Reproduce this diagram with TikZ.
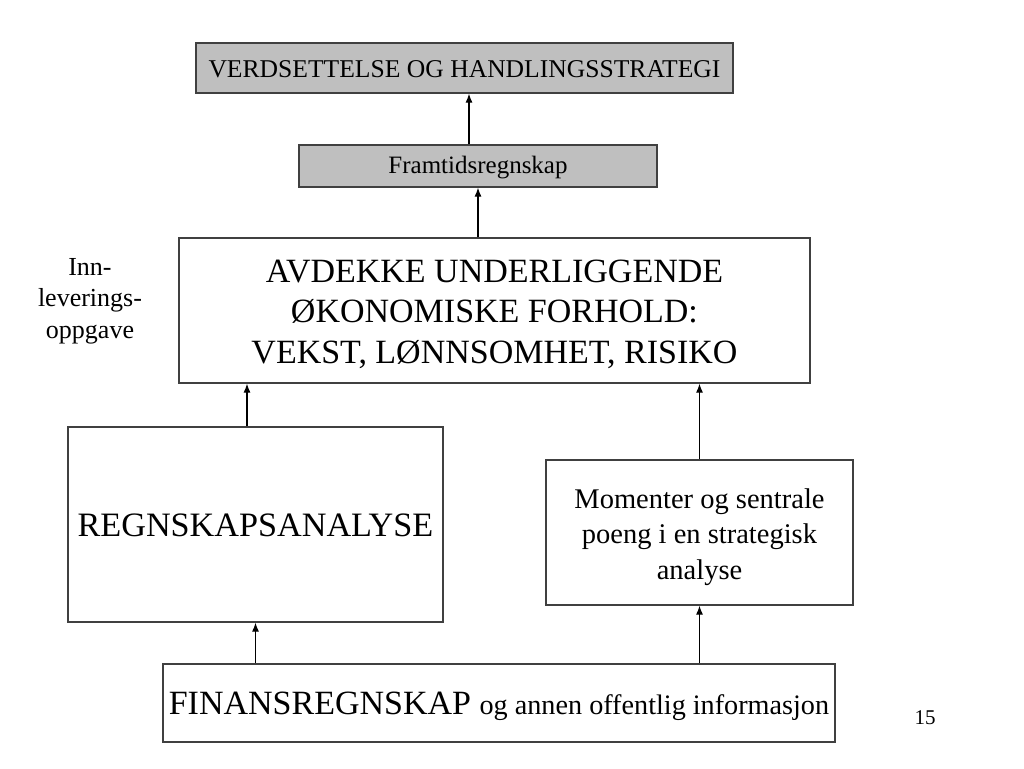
\documentclass[tikz,border=0pt]{standalone}
\usepackage{fontspec}
\setmainfont{Liberation Serif}
\usetikzlibrary{arrows.meta}
\newcommand{\lowerby}[2]{\raisebox{-#1}[\height][\depth]{#2}}
\begin{document}
\begin{tikzpicture}[x=1pt,y=-1pt,
  box/.style={draw=black!75, line width=1.2pt, inner sep=0pt, align=center, text=black},
  graybox/.style={box, fill=black!25},
  arr/.style={line width=1.2pt, -{Latex[length=9pt,width=7pt]}}]
\useasboundingbox (0,0) rectangle (1024,768);
\node[graybox, minimum width=537, minimum height=50, font=\fontsize{25.6}{28}\selectfont] (top) at (464.5,68) {\lowerby{1.5pt}{VERDSETTELSE OG HANDLINGSSTRATEGI}};
\node[graybox, minimum width=358, minimum height=42, font=\fontsize{25}{28}\selectfont] (fram) at (478,166) {\lowerby{1.5pt}{Framtidsregnskap}};
\node[box, minimum width=631, minimum height=145, font=\fontsize{34}{40.5}\selectfont] (avd) at (494.5,310.5) {\lowerby{4pt}{\begin{tabular}{@{}c@{}}AVDEKKE UNDERLIGGENDE\\ØKONOMISKE FORHOLD:\\VEKST, LØNNSOMHET, RISIKO\end{tabular}}};
\node[box, minimum width=375, minimum height=195, font=\fontsize{34.2}{40}\selectfont] (regn) at (255.5,524.5) {\lowerby{1pt}{REGNSKAPSANALYSE}};
\node[box, minimum width=307, minimum height=145, font=\fontsize{28.5}{35.5}\selectfont] (mom) at (699.5,532.5) {\lowerby{4pt}{\begin{tabular}{@{}c@{}}Momenter og sentrale\\poeng i en strategisk\\analyse\end{tabular}}};
\node[box, minimum width=672, minimum height=78] (fin) at (499,703) {\lowerby{3pt}{\fontsize{34}{38}\selectfont FINANSREGNSKAP \fontsize{28.2}{34}\selectfont og annen offentlig informasjon}};
\node[align=center, inner sep=0pt, font=\fontsize{26}{31.5}\selectfont] (inn) at (90,301) {Inn-\\leverings-\\oppgave};
\node[inner sep=0pt, font=\fontsize{21}{24}\selectfont] (pg) at (925,718) {15};
\draw[arr] ([xshift=-9]fram.north) -- ([xshift=-9]fram.north |- top.south);
\draw[arr] (fram.south |- avd.north) -- (fram.south);
\draw[arr] ([xshift=-8.5]regn.north) -- ([xshift=-8.5]regn.north |- avd.south);
\draw[arr] (mom.north) -- (mom.north |- avd.south);
\draw[arr] (regn.south |- fin.north) -- (regn.south);
\draw[arr] (mom.south |- fin.north) -- (mom.south);
\end{tikzpicture}
\end{document}
